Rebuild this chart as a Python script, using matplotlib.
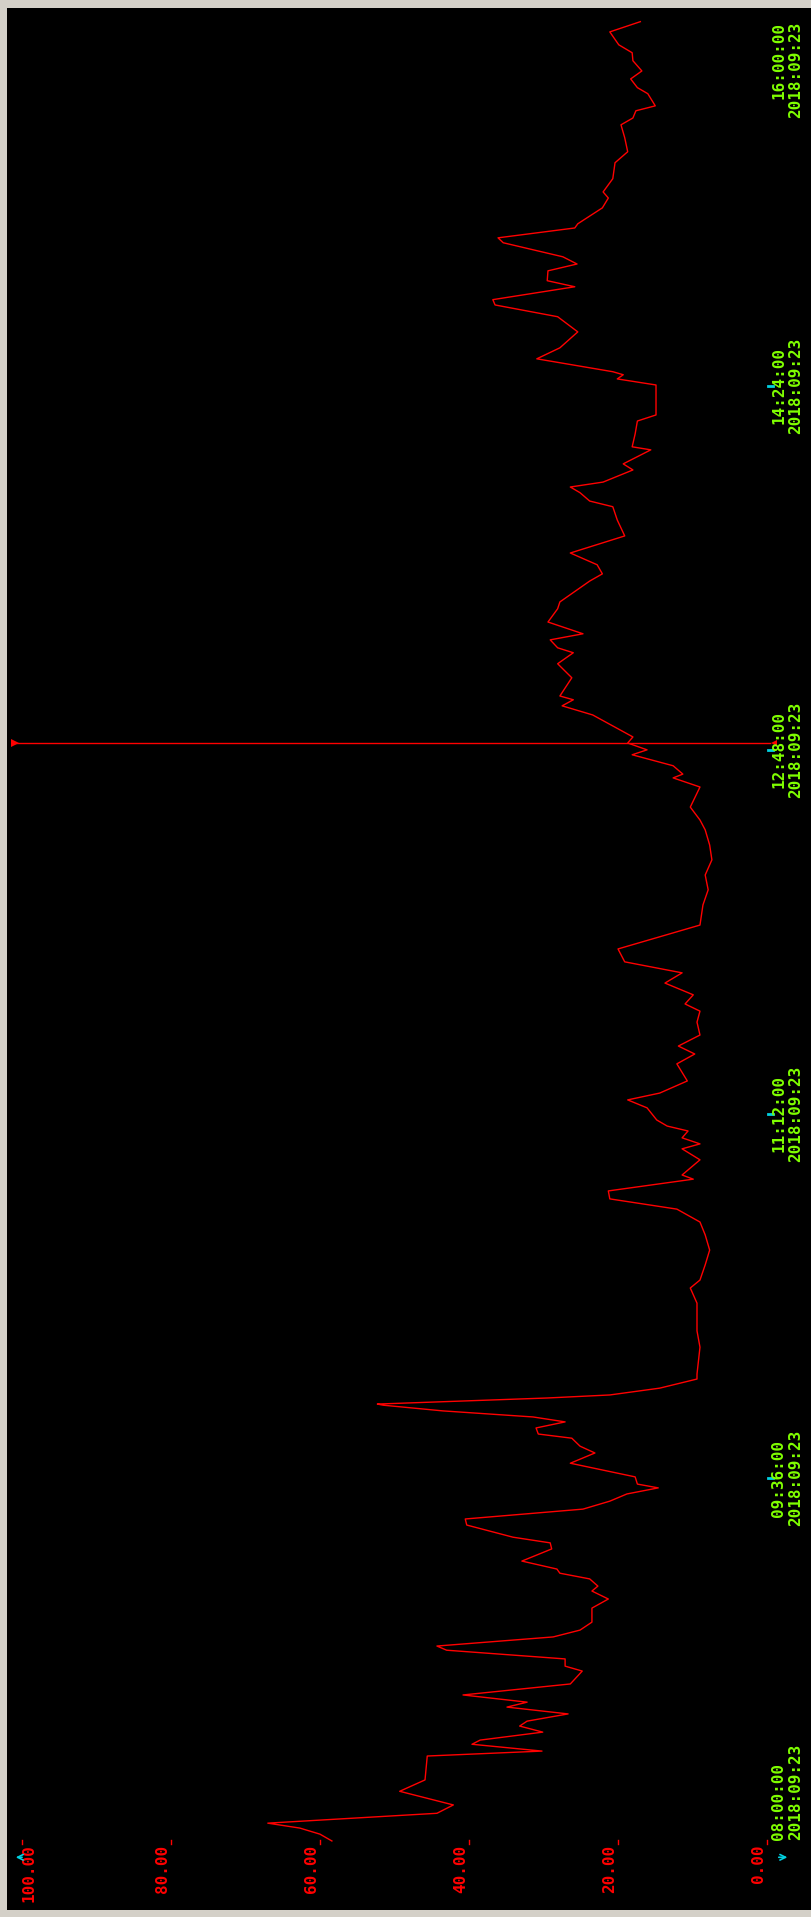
#!python
# trend curve, drawn turned on its side like the panel screenshot

import matplotlib
matplotlib.use('Agg')
import matplotlib.pyplot as plt

# minutes after 08:00:00 and the value at each point
minutes = [0.3, 2.1, 3.7, 5.0, 7.6, 9.8, 13.4, 16.4, 22.7, 24.0, 25.8, 26.9, 29.0, 30.6, 31.9,
           33.8, 35.6, 36.9, 38.8, 41.7, 45.1, 46.4, 48.3, 50.6, 51.7, 54.1, 55.9, 58.0, 61.7,
           64.1, 66.2, 67.5, 69.4, 70.9, 72.0, 74.1, 77.3, 78.9, 80.4, 83.6, 85.2, 87.8, 89.9,
           91.8, 93.4, 94.4, 96.3, 99.9, 102.6, 104.4, 106.5, 107.6, 109.2, 110.8, 112.1, 113.7,
           115.2, 115.5, 117.1, 117.9, 119.7, 122.1, 123.4, 130.5, 134.8, 142.1, 146.1, 148.2,
           152.2, 156.1, 160.1, 163.5, 166.9, 169.6, 171.7, 174.8, 175.9, 179.9, 182.8, 184.1,
           185.7, 187.5, 188.8, 190.4, 193.6, 195.7, 197.5, 200.7, 205.2, 207.8, 209.9, 212.8,
           216.2, 219.1, 221.0, 223.4, 226.5, 229.2, 232.1, 235.5, 241.8, 247.1, 251.1, 255.0,
           259.0, 262.9, 266.9, 269.5, 272.9, 278.2, 280.6, 281.6, 283.8, 286.7, 288.0, 289.8,
           291.4, 297.2, 299.6, 301.2, 302.2, 307.0, 310.7, 313.6, 314.9, 317.0, 318.6, 321.7,
           325.2, 327.0, 332.5, 334.4, 336.8, 339.9, 344.4, 348.6, 352.1, 353.6, 355.8, 357.3,
           358.6, 361.8, 363.4, 367.1, 367.9, 371.3, 374.7, 376.3, 384.2, 385.8, 386.9, 387.7,
           391.1, 394.0, 398.2, 402.2, 405.3, 406.7, 410.1, 411.7, 414.3, 416.1, 418.0, 421.7,
           423.0, 425.6, 426.7, 429.1, 430.9, 433.5, 435.1, 438.6, 442.8, 445.7, 449.4, 452.8,
           454.6, 456.5, 457.8, 461.0, 462.6, 464.9, 467.0, 469.7, 471.8, 473.9, 477.3, 480.0]
values = [58.4, 60.0, 62.7, 67.0, 44.3, 42.1, 49.3, 45.9, 45.6, 30.2, 39.6, 38.5, 30.1, 33.2, 32.2,
          26.7, 34.9, 32.2, 40.8, 26.4, 24.8, 27.1, 27.1, 43.0, 44.3, 28.7, 25.1, 23.5, 23.5,
          21.3, 23.5, 22.7, 23.8, 27.8, 28.2, 32.9, 28.9, 29.1, 34.1, 40.3, 40.5, 24.7, 21.1,
          18.8, 14.6, 17.4, 17.7, 26.4, 23.1, 25.1, 26.2, 30.7, 31.0, 27.1, 31.4, 43.5,
          51.5, 52.3, 29.5, 21.1, 14.4, 9.4, 9.4, 9.0, 9.4, 9.4, 10.3, 9.0,
          8.3, 7.7, 8.3, 9.0, 12.1, 21.1, 21.3, 9.9, 11.4, 9.0, 11.4, 9.0,
          11.4, 10.6, 13.4, 14.8, 16.1, 18.7, 14.4, 10.7, 12.1, 9.7, 11.9, 9.0,
          9.4, 9.0, 11.0, 9.9, 13.7, 11.4, 19.1, 20.0, 9.0, 8.6, 7.9, 8.3,
          7.4, 7.7, 8.3, 9.0, 10.3, 9.0, 12.6, 11.3, 12.6, 18.1, 16.1, 18.7,
          18.0, 23.4, 27.5, 26.0, 27.8, 26.2, 28.1, 26.0, 28.1, 29.1, 24.7, 29.4,
          28.1, 27.8, 23.8, 22.1, 22.8, 26.4, 19.1, 20.1, 20.7, 23.8, 25.1, 26.4,
          22.0, 18.0, 19.3, 15.6, 18.1, 17.7, 17.4, 14.9, 14.9, 20.1, 19.3, 20.7,
          30.9, 27.8, 25.4, 28.1, 36.5, 36.8, 25.8, 29.5, 29.4, 25.5, 27.4, 35.4,
          36.1, 25.8, 25.4, 23.5, 22.1, 21.3, 22.0, 20.7, 20.4, 18.7, 19.1, 19.6,
          18.0, 17.6, 15.0, 16.0, 17.4, 18.3, 16.8, 18.0, 18.1, 19.9, 21.1, 17.0]

value_ticks = [0, 20, 40, 60, 80, 100]
value_labels = ['0.00', '20.00', '40.00', '60.00', '80.00', '100.00']
time_ticks = [0, 96, 192, 288, 384, 480]
time_labels = ['08:00:00', '09:36:00', '11:12:00', '12:48:00', '14:24:00', '16:00:00']
date_label = '2018:09:23'
cursor_minute = 289.8

RED = '#ff0000'
GREEN = '#80ff00'
CYAN = '#00d0e0'
mono = dict(family='DejaVu Sans Mono', weight='bold', fontsize=11.5)

fig = plt.figure(figsize=(8.11, 19.17), dpi=100, facecolor='#d4d0c8')
ax = fig.add_axes([7 / 811, 7 / 1917, 804 / 811, 1902 / 1917])
ax.set_facecolor('black')
ax.set_xlim(102.0, -5.9)
ax.set_ylim(-17.9, 483.6)
ax.set_xticks([])
ax.set_yticks([])
for s in ax.spines.values():
    s.set_visible(False)

# the curve
ax.plot(values, minutes, color=RED, lw=1.0)

# cursor line with its two little triangles
ax.plot([101.3, -0.4], [cursor_minute, cursor_minute], color=RED, lw=1.0)
ax.plot([100.9], [cursor_minute], marker='>', color=RED, ms=6, mew=0)
ax.plot([-0.9], [cursor_minute], marker='<', color=RED, ms=5, mew=0)

# value axis labels, turned
for v, lab in zip(value_ticks, value_labels):
    ax.plot([v, v], [-0.5, 0.6], color=RED, lw=1.0)
    dx = -1.0 if v == 100 else 1.1
    ax.text(v + dx, -0.6, lab, color=RED, rotation=90, ha='center', va='top', **mono)

# time axis labels, turned
for i, (t, lab) in enumerate(zip(time_ticks, time_labels)):
    if i == 0:
        va, ty = 'bottom', t + 0.5
    elif i == len(time_ticks) - 1:
        va, ty = 'top', t
    else:
        va, ty = 'center', t
        ax.plot([-0.1, -0.8], [t, t], color=CYAN, lw=2)
    ax.text(-1.6, ty, lab, color=GREEN, rotation=90, ha='center', va=va, **mono)
    ax.text(-3.9, ty, date_label, color=GREEN, rotation=90, ha='center', va=va, **mono)

# small cyan arrows at the two ends of the value axis
ax.annotate('', xy=(101.2, -4.0), xytext=(99.6, -4.0),
            arrowprops=dict(arrowstyle='->', color=CYAN, lw=1.2))
ax.annotate('', xy=(-3.1, -4.0), xytext=(-1.2, -4.0),
            arrowprops=dict(arrowstyle='->', color=CYAN, lw=1.2))

plt.savefig('out.png', dpi=100, facecolor=fig.get_facecolor())
